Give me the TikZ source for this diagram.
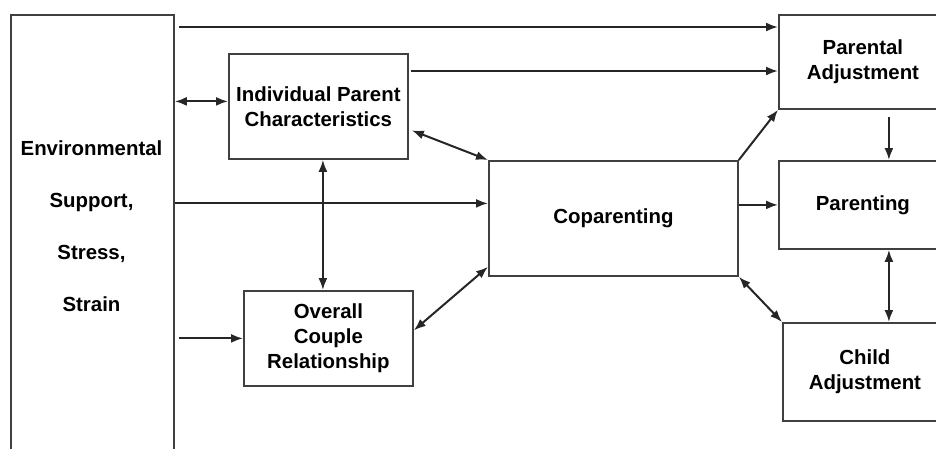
\documentclass[tikz,border=0pt]{standalone}
\usepackage{fontspec}
\setmainfont{Liberation Sans}
\usetikzlibrary{arrows.meta}

\tikzset{
  box/.style={draw=black!75, line width=1.8pt, anchor=north west, inner sep=0pt,
    align=center, font=\bfseries\fontsize{20.4}{25}\selectfont},
  arr/.style={-{Latex[length=12pt,width=9pt]}, line width=2pt, draw=black!85},
  darr/.style={{Latex[length=12pt,width=9pt]}-{Latex[length=12pt,width=9pt]},
    line width=2pt, draw=black!85}
}

\begin{document}
\begin{tikzpicture}[x=1pt,y=-1pt]
  \useasboundingbox (0,0) rectangle (936,448);
  \clip (0,0) rectangle (936,448);
  % boxes
  \node[box, minimum width=163pt, minimum height=450pt] (env) at (10,14) {};
  \node[align=center, font=\bfseries\fontsize{20.4}{52}\selectfont] (envtext) at (91.5,226)
    {Environmental\\Support,\\Stress,\\Strain};
  \node[box, minimum width=179pt, minimum height=105pt] (ipc) at (228,53) {Individual Parent\\Characteristics};
  \node[box, minimum width=169pt, minimum height=95pt] (ocr) at (243,290) {Overall\\Couple\\Relationship};
  \node[box, minimum width=249pt, minimum height=115pt] (cop) at (488,160) {Coparenting};
  \node[box, minimum width=168pt, minimum height=94pt] (pa) at (778,14) {Parental\\Adjustment};
  \node[box, minimum width=168pt, minimum height=88pt] (par) at (778,160) {Parenting};
  \node[box, minimum width=164pt, minimum height=98pt] (child) at (782,322) {Child\\Adjustment};
  % connector ends
  \coordinate (envout) at ([yshift=-13pt]env.north east);
  \coordinate (ipcin) at ([yshift=5pt]ipc.west);
  \coordinate (ipcout) at ([yshift=-18pt]ipc.north east);
  \coordinate (copin) at ([yshift=15pt]cop.west);
  % connectors
  \draw[arr, shorten <=4pt] (envout) -- (pa.west |- envout);
  \draw[darr] (env.east |- ipcin) -- (ipcin);
  \draw[arr, shorten <=2pt] (ipcout) -- (pa.west |- ipcout);
  \draw[darr] ([shift={(3pt,-24pt)}]ipc.east) -- (cop.north west);
  \draw[arr] (env.east |- copin) -- (copin);
  \draw[darr] ([yshift=10pt]cop.south west) -- ([yshift=8pt]ocr.east);
  \draw[arr, shorten <=4pt] (env.east |- ocr.west) -- (ocr.west);
  \draw[darr] ([xshift=4.5pt]ipc.south) -- ([xshift=-5.5pt]ocr.north);
  \draw[arr] (cop.north east) -- (pa.south west);
  \draw[arr] (cop.east |- par.west) -- (par.west);
  \draw[darr] (cop.south east) -- (child.north west);
  \draw[arr, shorten <=7pt] ([xshift=26pt]pa.south) -- ([xshift=26pt]par.north);
  \draw[darr] ([xshift=26pt]par.south) -- ([xshift=24pt]child.north);
\end{tikzpicture}
\end{document}
